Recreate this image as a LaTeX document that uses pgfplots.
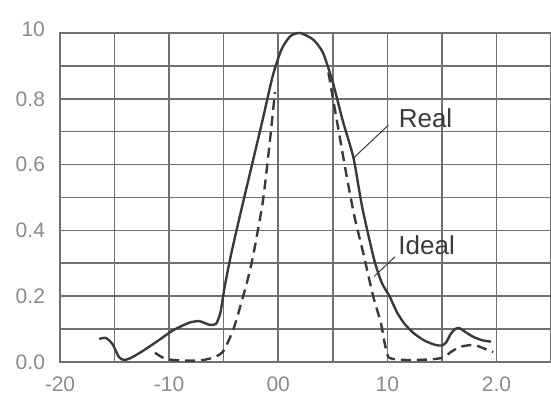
\documentclass[border=0pt]{standalone}
\usepackage{pgfplots}
\pgfplotsset{compat=1.18}
\usepackage{fontspec}
\setmainfont{Liberation Sans}
\definecolor{gridc}{HTML}{707070}
\definecolor{curvec}{HTML}{3A3A3A}
\definecolor{labc}{HTML}{8A8A8A}
\begin{document}
\begin{tikzpicture}
\begin{axis}[
  scale only axis, width=245.5pt, height=164.5pt,
  xmin=-20, xmax=25, ymin=0, ymax=1,
  xtick={-20,-15,-10,-5,0,5,10,15,20,25},
  xticklabels={-20,,-10,,00,,10,,2.0,},
  ytick={0,0.1,0.2,0.3,0.4,0.5,0.6,0.7,0.8,0.9,1.0},
  yticklabels={0.0,,0.2,,0.4,,0.6,,0.8,,\raisebox{4pt}{10}},
  /pgf/number format/assume math mode=true,
  major tick length=0pt,
  grid=major,
  major grid style={gridc, line width=0.8pt},
  axis line style={gridc, line width=0.9pt},
  tick label style={font=\fontsize{10.5}{12}\selectfont, color=labc},
  xticklabel style={yshift=-4pt},
  yticklabel style={xshift=-4pt},
  clip=false,
]
\addplot[curvec, line width=1.2pt, smooth, tension=0.4] coordinates {
(-16.4,0.070) (-15.8,0.073) (-15.2,0.055) (-14.6,0.015) (-14.1,0.006)
(-13.4,0.014) (-12.3,0.036) (-11.0,0.065) (-9.6,0.097) (-8.1,0.120)
(-7.2,0.124) (-6.3,0.113) (-5.7,0.116) (-5.3,0.150) (-4.9,0.230)
(-4.3,0.330) (-3.4,0.460) (-2.4,0.600) (-1.4,0.740) (-0.5,0.870)
(0.3,0.950) (1.1,0.990) (2.0,1.000) (3.2,0.980) (4.1,0.940)
(5.0,0.850) (5.9,0.735) (6.9,0.620) (7.7,0.470) (8.8,0.310)
(9.5,0.240) (10.2,0.200) (10.9,0.150) (11.6,0.115) (12.4,0.088)
(13.4,0.065) (14.4,0.052) (15.0,0.050) (15.4,0.060) (15.8,0.085)
(16.2,0.100) (16.6,0.103) (17.2,0.090) (17.9,0.076) (18.7,0.066)
(19.5,0.062)
};
\addplot[curvec, line width=1.2pt, dash pattern=on 5pt off 3pt, smooth, tension=0.4] coordinates {
(-11.3,0.028) (-10.5,0.012) (-9.6,0.006) (-8.1,0.004) (-6.9,0.006)
(-6.1,0.012) (-5.4,0.022) (-4.9,0.040) (-4.0,0.110) (-2.8,0.250)
(-2.2,0.340) (-1.4,0.490) (-0.8,0.660) (-0.3,0.820)
};
\addplot[curvec, line width=1.2pt, dash pattern=on 5pt off 3pt, smooth, tension=0.4] coordinates {
(4.6,0.880) (5.5,0.710) (6.3,0.560) (7.0,0.440) (7.8,0.330)
(8.7,0.200) (9.4,0.120) (9.8,0.050) (10.1,0.015) (10.8,0.008)
(12.0,0.006) (14.0,0.008) (15.2,0.014) (15.8,0.030) (16.7,0.046)
(17.9,0.052) (18.8,0.042) (19.7,0.030)
};
\draw[curvec, line width=0.5pt] (axis cs:10.1,0.72) -- (axis cs:6.9,0.62);
\draw[curvec, line width=0.5pt] (axis cs:10.7,0.32) -- (axis cs:8.8,0.26);
\node[font=\fontsize{13}{15}\selectfont, text=curvec] at (axis cs:13.5,0.74) {Real};
\node[font=\fontsize{13}{15}\selectfont, text=curvec] at (axis cs:13.6,0.355) {Ideal};
\coordinate (bl) at (rel axis cs:0,0);
\coordinate (tr) at (rel axis cs:1,1);
\end{axis}
\pgfresetboundingbox
\useasboundingbox ([xshift=-30pt,yshift=-19pt]bl) rectangle ([yshift=16.5pt]tr);
\end{tikzpicture}
\end{document}
